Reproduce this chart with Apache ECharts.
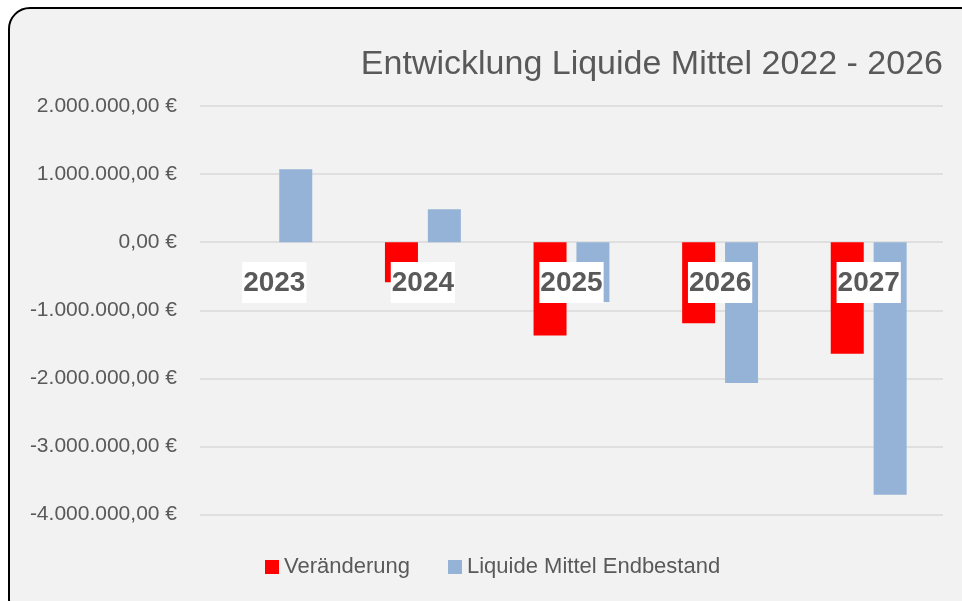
<!DOCTYPE html>
<html>
<head>
<meta charset="utf-8">
<script src="https://cdn.jsdelivr.net/npm/echarts@6/dist/echarts.min.js"></script>
<style>
  html, body { margin: 0; padding: 0; background: #fff; overflow: hidden; }
  .frame {
    position: absolute; left: 8px; top: 7px; width: 975px; height: 615px;
    box-sizing: border-box; border: 2px solid #000; border-radius: 22px;
    background: #f2f2f2;
  }
  #chart { position: absolute; left: 0; top: 0; width: 962px; height: 601px; }
</style>
</head>
<body>
<div class="frame"></div>
<div id="chart"></div>
<script>
var years = ['2023', '2024', '2025', '2026', '2027']
var veraenderung = [0, -590000, -1370000, -1190000, -1640000]
var liquideMittel = [1070000, 485000, -880000, -2070000, -3710000]
var seriesNames = ['Veränderung', 'Liquide Mittel Endbestand']

function euro(v) {
  var neg = v < 0
  var s = Math.abs(v).toFixed(0).replace(/\B(?=(\d{3})+(?!\d))/g, '.')
  return (neg ? '-' : '') + s + ',00 €'
}

var myChart = echarts.init(document.getElementById('chart'))
var font = '"Liberation Sans", Arial, sans-serif'
var option = {
  backgroundColor: 'transparent',
  animation: false,
  title: {
    text: 'Entwicklung Liquide Mittel 2022 - 2026',
    right: 14,
    top: 43,
    textStyle: { fontFamily: font, fontSize: 34, fontWeight: 'normal', color: '#595959' }
  },
  legend: {
    data: seriesNames,
    left: 260,
    top: 551,
    icon: 'rect',
    itemWidth: 14,
    itemHeight: 14,
    itemGap: 38,
    textStyle: { fontFamily: font, fontSize: 22, color: '#595959' }
  },
  grid: { left: 200, right: 19, top: 106, bottom: 86.5, containLabel: false },
  xAxis: {
    type: 'category',
    data: years,
    z: 10,
    // labels sit just under the zero line, like the Excel original
    offset: -272.5,
    axisLine: { show: false },
    axisTick: { show: false },
    axisLabel: {
      margin: 20,
      fontFamily: font,
      fontSize: 28,
      fontWeight: 'bold',
      lineHeight: 34,
      color: '#595959',
      backgroundColor: '#fff',
      padding: [4, 1, 3, 1]
    }
  },
  yAxis: {
    type: 'value',
    min: -4000000,
    max: 2000000,
    interval: 1000000,
    axisLine: { show: false },
    axisTick: { show: false },
    splitLine: { lineStyle: { color: '#d9d9d9', width: 1.5 } },
    axisLabel: {
      margin: 23,
      fontFamily: font,
      fontSize: 21,
      color: '#595959',
      formatter: euro
    }
  },
  series: [
    {
      name: seriesNames[0],
      type: 'bar',
      data: veraenderung,
      barWidth: 33,
      barGap: '30%',
      itemStyle: { color: '#ff0000' }
    },
    {
      name: seriesNames[1],
      type: 'bar',
      data: liquideMittel,
      barWidth: 33,
      barGap: '30%',
      itemStyle: { color: '#95b3d7' }
    }
  ]
}
myChart.setOption(option)
</script>
</body>
</html>
